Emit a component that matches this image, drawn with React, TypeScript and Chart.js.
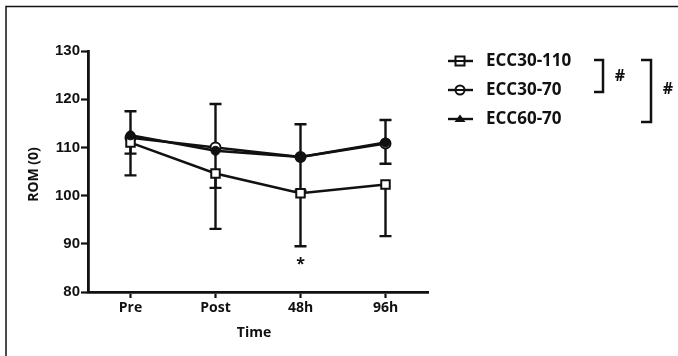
import React, { useEffect, useRef } from "react";
import { Chart, registerables } from "chart.js";

Chart.register(...registerables);

const categories = ["Pre", "Post", "48h", "96h"];
const seriesNames = ["ECC30-110", "ECC30-70", "ECC60-70"];
const ecc30_110 = [111, 104.6, 100.5, 102.3];
const ecc30_70 = [112, 110, 108, 110.8];
const ecc60_70 = [112.5, 109.3, 108, 111];
// one-directional error bars (SD) as drawn in the figure
const ecc30_110Down = [6.8, 11.5, 11, 10.7];
const ecc30_70Up = [5.5, 9, 6.8, 4.9];
const ecc60_70Down = [3.8, 7.7, 7, 4.4];
const yTicks = [80, 90, 100, 110, 120, 130];
const yTitle = "ROM (0)";
const xTitle = "Time";
const sigMark = "*";
const sigIndex = 2;

const FONT = "'Open Sans', sans-serif";

export default function App() {
  const ref = useRef<HTMLCanvasElement>(null);
  useEffect(() => {
    document.body.style.margin = "0";
    const canvas = ref.current!;
    const errorBars = {
      id: "errorBars",
      beforeDatasetsDraw(chart: any) {
        const ctx = chart.ctx;
        const xs = chart.scales.x;
        const ys = chart.scales.y;
        const specs = [
          { data: ecc30_110, err: ecc30_110Down, dir: -1 },
          { data: ecc30_70, err: ecc30_70Up, dir: 1 },
          { data: ecc60_70, err: ecc60_70Down, dir: -1 },
        ];
        ctx.save();
        ctx.strokeStyle = "#111";
        ctx.lineWidth = 2.4;
        specs.forEach((s) => {
          s.data.forEach((v, i) => {
            const x = xs.getPixelForValue(i);
            const y0 = ys.getPixelForValue(v);
            const y1 = ys.getPixelForValue(v + s.dir * s.err[i]);
            ctx.beginPath();
            ctx.moveTo(x, y0);
            ctx.lineTo(x, y1);
            ctx.moveTo(x - 6, y1);
            ctx.lineTo(x + 6, y1);
            ctx.stroke();
          });
        });
        ctx.restore();
      },
    };
    const decor = {
      id: "decor",
      afterDraw(chart: any) {
        const ctx = chart.ctx;
        const xs = chart.scales.x;
        const ys = chart.scales.y;
        ctx.save();
        // frame
        ctx.strokeStyle = "#111";
        ctx.lineWidth = 1.5;
        ctx.beginPath();
        ctx.moveTo(6, 356);
        ctx.lineTo(6, 6.5);
        ctx.lineTo(678, 6.5);
        ctx.stroke();
        ctx.fillStyle = "#111";
        // axis titles
        ctx.font = "bold 14px " + FONT;
        ctx.textAlign = "center";
        ctx.textBaseline = "middle";
        ctx.fillText(xTitle, (xs.left + xs.right) / 2 - 4, 333);
        ctx.save();
        ctx.translate(34, (ys.top + ys.bottom) / 2 + 3);
        ctx.rotate(-Math.PI / 2);
        ctx.fillText(yTitle, 0, 0);
        ctx.restore();
        // significance star
        ctx.font = "bold 16px " + FONT;
        ctx.fillText(sigMark, xs.getPixelForValue(sigIndex), 264);
        // legend
        const ly = [61, 90, 119];
        const styles = ["rect", "circle", "triangle"];
        ctx.lineWidth = 2.4;
        ly.forEach((y, i) => {
          ctx.strokeStyle = "#111";
          ctx.beginPath();
          ctx.moveTo(448, y);
          ctx.lineTo(473, y);
          ctx.stroke();
          const st = styles[i];
          ctx.lineWidth = 2;
          ctx.beginPath();
          if (st === "rect") {
            ctx.rect(455.5, y - 4.5, 9, 9);
            ctx.fillStyle = "#fff";
            ctx.fill();
            ctx.stroke();
            ctx.beginPath();
            ctx.moveTo(455.5, y);
            ctx.lineTo(464.5, y);
            ctx.stroke();
          } else if (st === "circle") {
            ctx.arc(460, y, 4.5, 0, Math.PI * 2);
            ctx.fillStyle = "#fff";
            ctx.fill();
            ctx.stroke();
            ctx.beginPath();
            ctx.moveTo(455.5, y);
            ctx.lineTo(464.5, y);
            ctx.stroke();
          } else {
            ctx.moveTo(460, y - 4.5);
            ctx.lineTo(465.5, y + 3);
            ctx.lineTo(454.5, y + 3);
            ctx.closePath();
            ctx.fillStyle = "#111";
            ctx.fill();
          }
          ctx.lineWidth = 2.4;
          ctx.fillStyle = "#111";
          ctx.font = "bold 17px " + FONT;
          ctx.textAlign = "left";
          ctx.textBaseline = "middle";
          ctx.fillText(seriesNames[i], 486, y);
        });
        // brackets
        ctx.lineWidth = 2.5;
        ctx.strokeStyle = "#111";
        ctx.beginPath();
        ctx.moveTo(594, 60);
        ctx.lineTo(603, 60);
        ctx.lineTo(603, 92);
        ctx.lineTo(594, 92);
        ctx.moveTo(641, 60);
        ctx.lineTo(651, 60);
        ctx.lineTo(651, 122);
        ctx.lineTo(641, 122);
        ctx.stroke();
        ctx.font = "bold 16px " + FONT;
        ctx.textAlign = "center";
        ctx.fillText("#", 620, 76);
        ctx.fillText("#", 668, 89);
        ctx.restore();
      },
    };
    const chart = new Chart(canvas, {
      type: "line",
      data: {
        labels: categories,
        datasets: [
          {
            label: seriesNames[0],
            data: ecc30_110,
            order: 1,
            borderColor: "#111",
            borderWidth: 2.5,
            pointStyle: "rect",
            pointRadius: 6,
            pointBackgroundColor: "#fff",
            pointBorderColor: "#111",
            pointBorderWidth: 2,
          },
          {
            label: seriesNames[1],
            data: ecc30_70,
            order: 2,
            borderColor: "#111",
            borderWidth: 2.5,
            pointStyle: "circle",
            pointRadius: 5,
            pointBackgroundColor: "#fff",
            pointBorderColor: "#111",
            pointBorderWidth: 2,
          },
          {
            label: seriesNames[2],
            data: ecc60_70,
            order: 0,
            borderColor: "#111",
            borderWidth: 2.5,
            pointStyle: "circle",
            pointRadius: 4.5,
            pointBackgroundColor: "#111",
            pointBorderColor: "#111",
            pointBorderWidth: 1,
          },
        ],
      },
      options: {
        responsive: false,
        animation: false,
        layout: { padding: { left: 0, right: 250, top: 51, bottom: 0 } },
        plugins: { legend: { display: false }, tooltip: { enabled: false } },
        scales: {
          x: {
            offset: true,
            afterFit: (s: any) => {
              s.height = 64;
            },
            grid: {
              display: true,
              drawOnChartArea: false,
              drawTicks: true,
              tickLength: 6,
              tickWidth: 2.2,
              tickColor: "#111",
              offset: false,
            },
            border: { display: true, color: "#111", width: 2.8 },
            ticks: {
              color: "#111",
              padding: 2,
              font: { family: "'Open Sans', sans-serif", size: 14, weight: "bold" },
            },
          },
          y: {
            min: 80,
            max: 130,
            afterFit: (s: any) => {
              s.width = 88;
            },
            afterBuildTicks: (s: any) => {
              s.ticks = yTicks.map((v) => ({ value: v }));
            },
            grid: {
              display: true,
              drawOnChartArea: false,
              drawTicks: true,
              tickLength: 7,
              tickWidth: 2.2,
              tickColor: "#111",
            },
            border: { display: true, color: "#111", width: 2.8 },
            ticks: {
              color: "#111",
              padding: 1,
              font: { family: "'Liberation Sans', Arial, sans-serif", size: 15, weight: "bold" },
            },
          },
        },
      },
      plugins: [errorBars, decor],
    } as any);
    return () => chart.destroy();
  }, []);
  return <canvas ref={ref} width={678} height={356} style={{ display: "block" }} />;
}
